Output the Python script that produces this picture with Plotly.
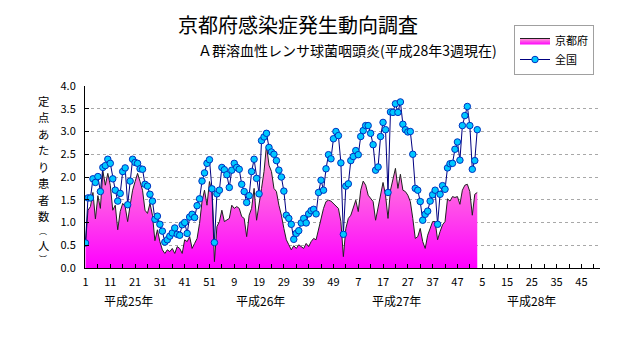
import plotly.graph_objects as go

# ---- data ----
national = [0.55, 1.54, 1.54, 1.96, 1.88, 2.01, 1.68, 2.21, 2.25, 2.39,
            2.30, 1.96, 1.71, 1.47, 1.64, 2.12, 2.20, 1.39, 1.91, 2.39,
            2.32, 2.30, 2.18, 2.17, 1.84, 1.80, 1.62, 1.47, 1.07, 1.14,
            0.96, 0.81, 0.57, 0.62, 0.70, 0.77, 0.88, 0.74, 0.72, 0.95,
            1.00, 0.76, 1.12, 1.18, 1.11, 1.37, 1.52, 1.91, 2.09, 2.30,
            2.38, 1.74, 0.56, 1.63, 1.71, 2.21, 2.16, 2.05, 1.77, 2.15,
            2.30, 2.21, 2.17, 1.84, 1.68, 1.44, 1.59, 2.12, 2.39, 1.97,
            1.63, 2.80, 2.88, 2.96, 2.65, 2.55, 2.50, 2.36, 2.15, 2.00,
            1.69, 1.16, 1.09, 0.96, 0.63, 0.76, 0.82, 0.99, 1.09, 0.99,
            1.19, 1.26, 1.29, 1.19, 1.66, 1.93, 1.71, 2.18, 2.49, 2.40,
            2.84, 3.00, 2.91, 2.31, 0.74, 1.80, 1.85, 2.36, 2.45, 2.58,
            2.49, 2.89, 3.02, 3.13, 3.13, 2.96, 2.71, 2.15, 2.22, 2.89,
            3.20, 3.04, 1.66, 3.43, 3.42, 3.61, 3.42, 3.65, 3.16, 3.04,
            2.99, 3.00, 2.50, 1.75, 1.71, 1.46, 1.05, 1.18, 1.25, 1.47,
            1.61, 1.71, 0.96, 1.62, 1.81, 1.73, 2.20, 2.29, 2.30, 2.61,
            2.77, 2.37, 3.13, 3.35, 3.55, 3.13, 2.17, 2.36, 3.04]

kyoto = [0.55, 1.27, 1.35, 1.66, 1.08, 1.59, 1.31, 2.13, 1.82, 2.08,
         1.82, 1.27, 1.38, 0.84, 1.24, 1.42, 1.35, 1.02, 1.38, 1.71,
         1.90, 2.08, 1.90, 1.71, 1.27, 1.20, 1.42, 1.16, 0.60, 0.84,
         0.58, 0.40, 0.32, 0.40, 0.36, 0.43, 0.32, 0.47, 0.43, 0.32,
         0.62, 0.58, 0.69, 0.43, 0.54, 0.65, 0.98, 1.46, 1.71, 1.38,
         1.90, 1.68, 0.14, 0.91, 1.02, 1.27, 1.02, 1.05, 1.09, 1.38,
         1.31, 1.35, 1.31, 1.13, 1.09, 0.69, 1.16, 1.31, 1.75, 1.05,
         1.46, 1.75, 2.12, 2.70, 2.26, 2.12, 1.75, 1.68, 1.38, 1.16,
         0.87, 0.62, 0.51, 0.40, 0.49, 0.43, 0.51, 0.47, 0.43, 0.54,
         0.47, 0.58, 0.65, 0.62, 0.87, 1.09, 1.31, 1.46, 1.49, 1.47,
         1.42, 1.35, 1.31, 1.02, 0.25, 0.87, 1.09, 1.16, 1.31, 1.49,
         1.24, 1.71, 1.91, 1.82, 1.60, 1.53, 1.46, 1.05, 1.35, 1.64,
         1.88, 1.60, 1.09, 1.71, 1.96, 2.19, 1.75, 2.06, 1.71, 1.68,
         1.60, 1.46, 1.09, 0.65, 0.69, 0.87, 0.58, 0.43, 0.72, 0.87,
         1.02, 1.02, 0.62, 0.80, 0.95, 1.02, 1.52, 1.47, 1.57, 1.55,
         1.57, 1.40, 1.71, 1.82, 1.84, 1.68, 1.16, 1.62, 1.66]

weeks = list(range(len(national)))  # consecutive week index from 平成25年 第1週

tick_labels = ["1", "11", "21", "31", "41", "51", "9", "19", "29", "39", "49",
               "7", "17", "27", "37", "47", "5", "15", "25", "35", "45"]
tick_positions = [10 * k for k in range(len(tick_labels))]

year_labels = ["平成25年", "平成26年", "平成27年", "平成28年"]
year_label_pos = [17.5, 70.5, 125.5, 180]

y_title_chars = ["定", "点", "あ", "た", "り", "患", "者", "数", "︵", "人", "︶"]

# ---- layout geometry (pixels) ----
W, H = 631, 347
L, R, T, B = 85, 31, 86, 79
PW, PH = W - L - R, H - T - B

def px(x):
    return (x - L) / PW

def py(y):
    return (H - B - y) / PH

JP = "Noto Sans CJK JP"

fig = go.Figure()

fig.add_trace(go.Scatter(
    x=weeks, y=kyoto, name="京都府", mode="lines",
    line=dict(color="#202020", width=1),
    fill="tozeroy",
    fillgradient=dict(type="vertical",
                      colorscale=[[0, "#ff00ff"], [1, "#ff9fd2"]]),
))

fig.add_trace(go.Scatter(
    x=weeks, y=national, name="全国", mode="lines+markers",
    line=dict(color="#000080", width=1),
    marker=dict(size=6.5, color="#00c8ff", line=dict(color="#0030c0", width=1)),
))

def ann(text, x, y, size, xref="paper"):
    return dict(text=text, x=x, y=y, xref=xref, yref="paper", showarrow=False,
                xanchor="center", yanchor="middle",
                font=dict(family=JP, size=size, color="black"))

annotations = [
    ann("京都府感染症発生動向調査", px(298), py(24), 20),
    ann("Ａ群溶血性レンサ球菌咽頭炎(平成28年3週現在)", px(347), py(49.5), 14),
]
for lab, pos in zip(year_labels, year_label_pos):
    annotations.append(ann(lab, pos, py(300), 12, xref="x"))

# vertical (stacked) axis title, one character per line
sizes = [11.3] * 8 + [8, 11.3, 8]
yy = 92.8
for ch, sz in zip(y_title_chars, sizes):
    h = sz * 1.45
    center = yy + h / 2
    annotations.append(ann(ch, px(43), py(center), sz))
    yy += h + 0.1

fig.update_layout(
    width=W, height=H,
    margin=dict(l=L, r=R, t=T, b=B),
    paper_bgcolor="white", plot_bgcolor="white",
    font=dict(family=JP, size=11, color="black"),
    showlegend=True,
    legend=dict(x=px(514), y=py(25), xanchor="left", yanchor="top",
                bordercolor="#a0a0a0", borderwidth=1, bgcolor="white",
                font=dict(family=JP, size=11), itemwidth=30,
                tracegroupgap=0),
    annotations=annotations,
)

fig.update_xaxes(
    range=[-0.2, 207.5],
    tickmode="array", tickvals=tick_positions, ticktext=tick_labels,
    ticks="inside", ticklen=4, tickcolor="black",
    minor=dict(dtick=5, tick0=0, ticks="inside", ticklen=4, tickcolor="black", showgrid=False),
    showline=True, linecolor="black", linewidth=1,
    showgrid=False, zeroline=False,
    tickfont=dict(family=JP, size=11),
    ticklabelstandoff=4,
)
fig.update_yaxes(
    range=[0, 4], dtick=0.5, tickformat=".1f",
    ticks="inside", ticklen=4, tickcolor="black",
    showline=True, linecolor="black", linewidth=1,
    showgrid=True, gridcolor="#a8a8a8", griddash="dot", gridwidth=1,
    zeroline=False,
    tickfont=dict(family=JP, size=11),
    ticklabelstandoff=6,
)

fig.write_html("out.html")
